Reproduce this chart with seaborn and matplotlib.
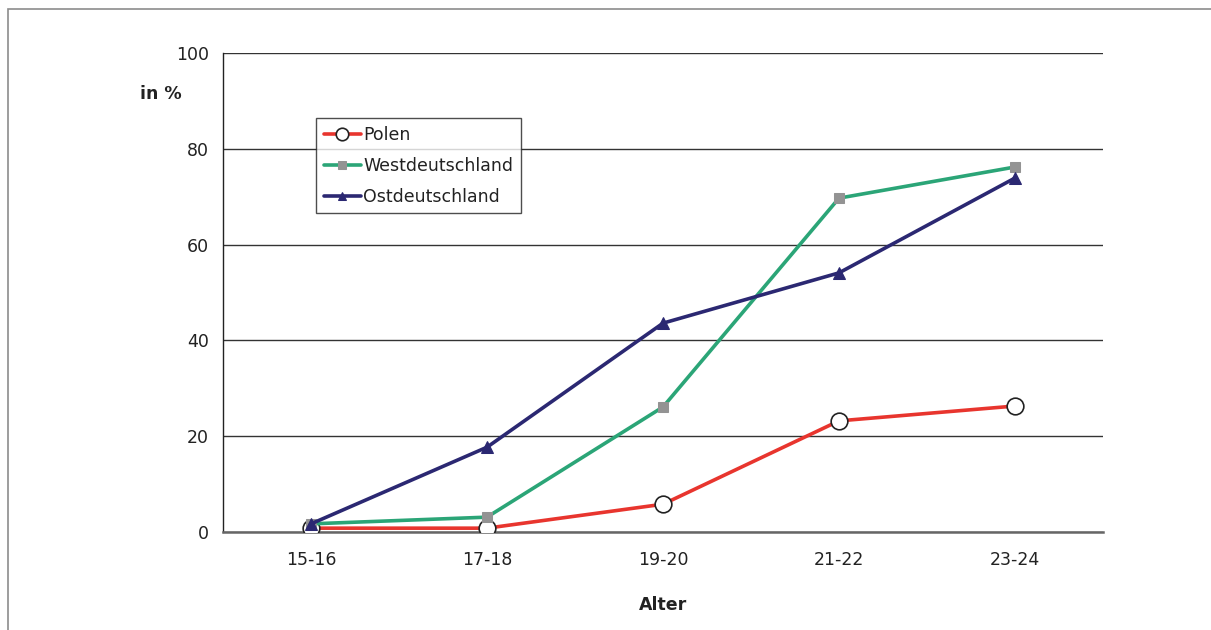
import matplotlib
matplotlib.use("Agg")
import matplotlib.pyplot as plt
import seaborn as sns
import pandas as pd
from matplotlib.patches import Rectangle

categories = ["15-16", "17-18", "19-20", "21-22", "23-24"]
polen = [0.8, 0.8, 5.8, 23.2, 26.3]
west = [1.7, 3.1, 26.1, 69.7, 76.2]
ost = [1.7, 17.7, 43.6, 54.1, 73.9]
y_ticks = [0, 20, 40, 60, 80, 100]

sns.set_theme(style="white")
plt.rcParams["font.family"] = ["DejaVu Sans"]

fig = plt.figure(figsize=(12.11, 6.3), dpi=100)
ax = fig.add_axes([223/1211, 1-532/630, 880/1211, 479/630])

# outer frame
fig.patches.append(Rectangle((8/1211, -0.1), 1.2, 1-9/630+0.1, transform=fig.transFigure,
                             fill=False, edgecolor="#8c8c8c", linewidth=1.2))

df = pd.DataFrame({"Alter": categories * 3,
                   "val": polen + west + ost,
                   "serie": ["Polen"] * 5 + ["Westdeutschland"] * 5 + ["Ostdeutschland"] * 5})
xpos = {c: i for i, c in enumerate(categories)}
df["x"] = df["Alter"].map(xpos)

styles = {
    "Polen": dict(color="#e8352e", marker="o", markersize=12, markerfacecolor="white",
                  markeredgecolor="#222222", markeredgewidth=1.2),
    "Westdeutschland": dict(color="#2ba577", marker="s", markersize=7, markerfacecolor="#939393",
                            markeredgecolor="#939393"),
    "Ostdeutschland": dict(color="#2b2872", marker="^", markersize=8, markerfacecolor="#2b2872",
                           markeredgecolor="#2b2872"),
}
for i, (name, st) in enumerate(styles.items()):
    sub = df[df["serie"] == name]
    sns.lineplot(data=sub, x="x", y="val", ax=ax, label=name, linewidth=2.6,
                 zorder=3 + i, **st)

ax.set_xlim(-0.5, 4.5)
ax.set_ylim(0, 100)
ax.set_yticks(y_ticks)
ax.set_xticks(range(len(categories)))
ax.set_xticklabels(categories)
ax.set_xticks([i - 0.5 for i in range(len(categories) + 1)], minor=True)
ax.tick_params(axis="x", which="major", length=0, pad=14, labelsize=12.5, colors="#222222")
ax.tick_params(axis="x", which="minor", length=6, width=1, color="#555555", direction="out")
ax.tick_params(axis="y", length=6, width=1, color="#222222", direction="out", labelsize=12.5,
               colors="#222222", pad=4)
ax.tick_params(axis="y", color="#222222")
ax.yaxis.grid(True, color="#333333", linewidth=1)
ax.set_axisbelow(True)
for s in ["top", "right"]:
    ax.spines[s].set_visible(False)
ax.spines["left"].set_color("#222222")
ax.spines["left"].set_linewidth(1)
ax.spines["bottom"].set_color("#666666")
ax.spines["bottom"].set_linewidth(1.8)
ax.set_xlabel("Alter", fontsize=12.5, fontweight="bold", labelpad=19, color="#222222")
ax.set_ylabel("")
fig.text(161/1211, 1-94/630, "in %", fontsize=12.5, fontweight="bold", ha="center", va="center",
         color="#222222")

leg = ax.legend(loc="upper left", bbox_to_anchor=(0.106, 0.864), borderaxespad=0,
                frameon=True, fancybox=False, fontsize=12.5, handlelength=2.1,
                handletextpad=0.15, borderpad=0.45, labelspacing=0.74, markerscale=0.75)
leg.get_frame().set_edgecolor("#222222")
leg.get_frame().set_linewidth(1)
for t in leg.get_texts():
    t.set_color("#222222")

fig.savefig("out.png", dpi=100)
